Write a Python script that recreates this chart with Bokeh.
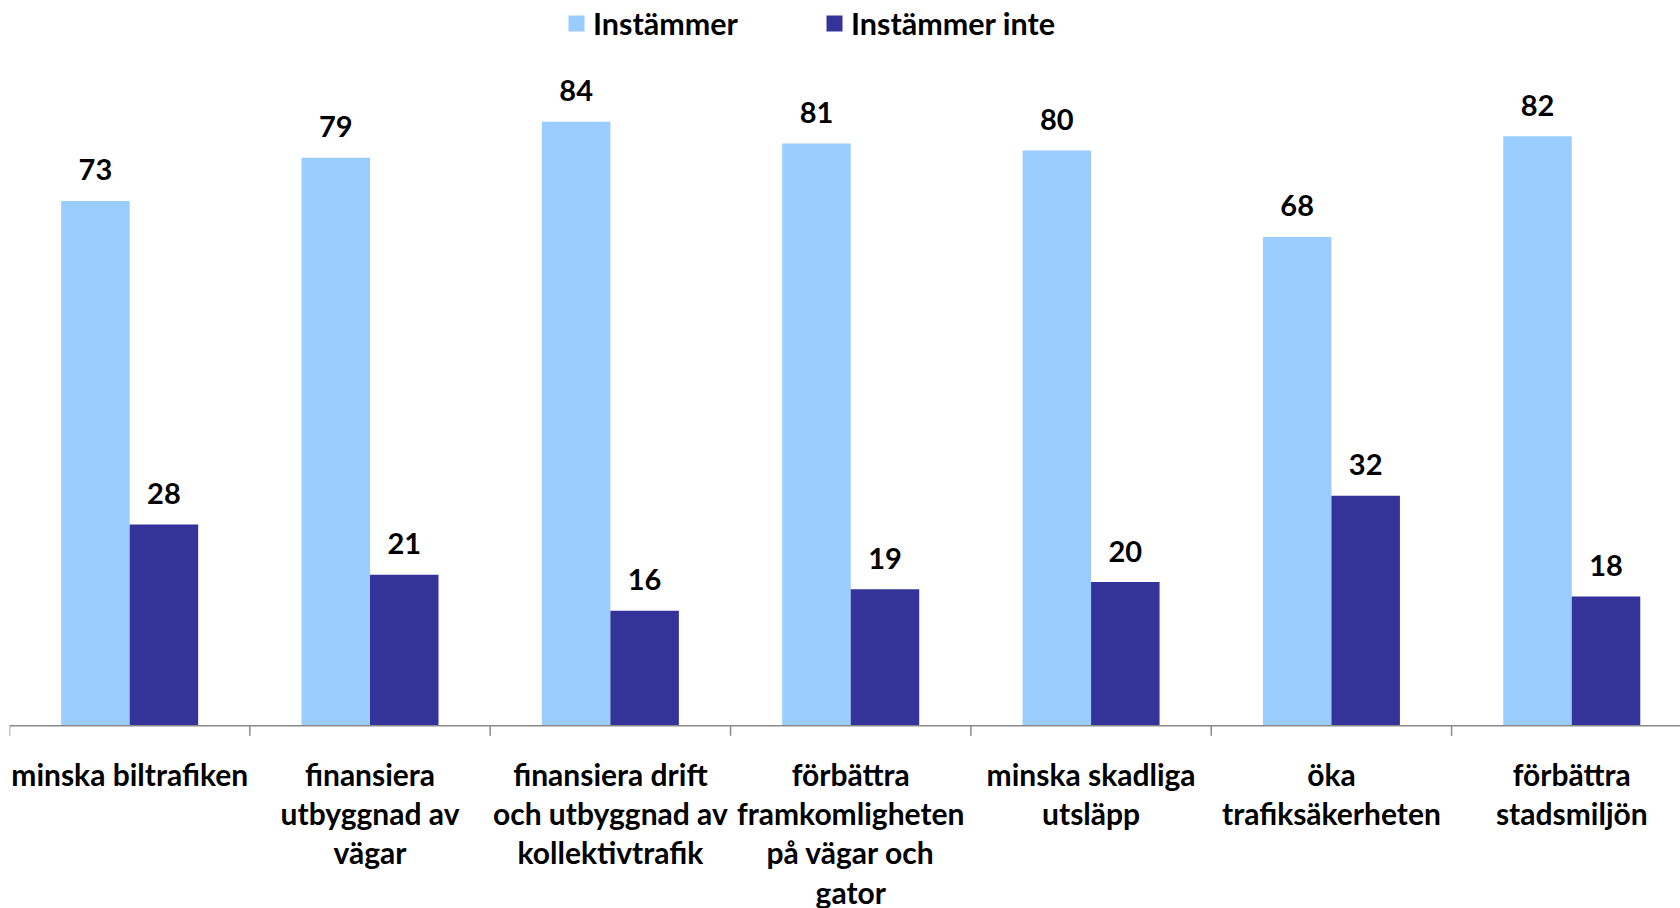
import math
from bokeh.plotting import figure
from bokeh.models import (ColumnDataSource, Legend, LegendItem, Range1d, Span)
from bokeh.core.properties import value
from bokeh.transform import dodge
from bokeh.embed import file_html
from bokeh.resources import INLINE

categories = ["minska biltrafiken",
              "finansiera\nutbyggnad av\nvägar",
              "finansiera drift\noch utbyggnad av\nkollektivtrafik",
              "förbättra\nframkomligheten\npå vägar och\ngator",
              "minska skadliga\nutsläpp",
              "öka\ntrafiksäkerheten",
              "förbättra\nstadsmiljön"]
instammer = [73, 79, 84, 81, 80, 68, 82]
instammer_inte = [28, 21, 16, 19, 20, 32, 18]
series_names = ["Instämmer", "Instämmer inte"]
colors = ["#99CCFF", "#333399"]

FONT = value("Lato")
n = len(categories)
src = ColumnDataSource(dict(
    xc=[i + 0.5 for i in range(n)],
    cat=categories,
    a=instammer,
    b=instammer_inte,
    a_txt=[str(v) for v in instammer],
    b_txt=[str(v) for v in instammer_inte],
))
bounds = ColumnDataSource(dict(x=list(range(n + 1)), y=[0] * (n + 1)))

W, H = 1680, 908
left = 9
axis_y = 725.3      # page y of the value axis
ppu = 7.19          # pixels per percentage point
cat_px = 240.35     # pixels per category
p = figure(width=W, height=H, output_backend="svg", toolbar_location=None,
           title=None, x_range=Range1d(0, (W - left) / cat_px),
           y_range=Range1d(-(H - axis_y) / ppu, axis_y / ppu),
           x_axis_location=None, y_axis_location=None,
           min_border_left=left, min_border_right=0,
           min_border_top=0, min_border_bottom=0)
p.outline_line_color = None
p.xgrid.visible = False
p.ygrid.visible = False
p.background_fill_color = "white"

bw = 0.285
r1 = p.vbar(x=dodge("xc", -bw / 2), top="a", width=bw, source=src,
            fill_color=colors[0], line_color=None)
r2 = p.vbar(x=dodge("xc", bw / 2), top="b", width=bw, source=src,
            fill_color=colors[1], line_color=None)

# category axis: base line + boundary ticks
p.add_layout(Span(location=0, dimension="width", line_color="#8a8a8a",
                  line_width=1.5))
p.ray(x="x", y="y", length=10, length_units="screen", angle=-math.pi / 2,
      source=bounds, line_color="#8a8a8a", line_width=1.5)

common = dict(text_font=FONT, text_font_style="bold", text_color="black",
              text_align="center")
p.text(x=dodge("xc", -bw / 2), y="a", text="a_txt", source=src,
       y_offset=-31, text_baseline="alphabetic", text_font_size="29px", **common)
p.text(x=dodge("xc", bw / 2), y="b", text="b_txt", source=src,
       y_offset=-31, text_baseline="alphabetic", text_font_size="29px", **common)
p.text(x="xc", y=0, text="cat", source=src, y_offset=30,
       text_baseline="top", text_font_size="30px", text_line_height=1.09,
       **common)

legend = Legend(items=[LegendItem(label=series_names[0], renderers=[r1]),
                       LegendItem(label=series_names[1], renderers=[r2])],
                orientation="horizontal", location=(557, 867),
                glyph_width=20, glyph_height=20, label_standoff=7,
                label_height=36, spacing=86, padding=0, margin=0,
                border_line_alpha=0, background_fill_alpha=0,
                label_text_font="Lato", label_text_font_style="bold",
                label_text_font_size="30.5px", label_text_color="black")
p.add_layout(legend)

open("out.html", "w").write(file_html(p, INLINE))
